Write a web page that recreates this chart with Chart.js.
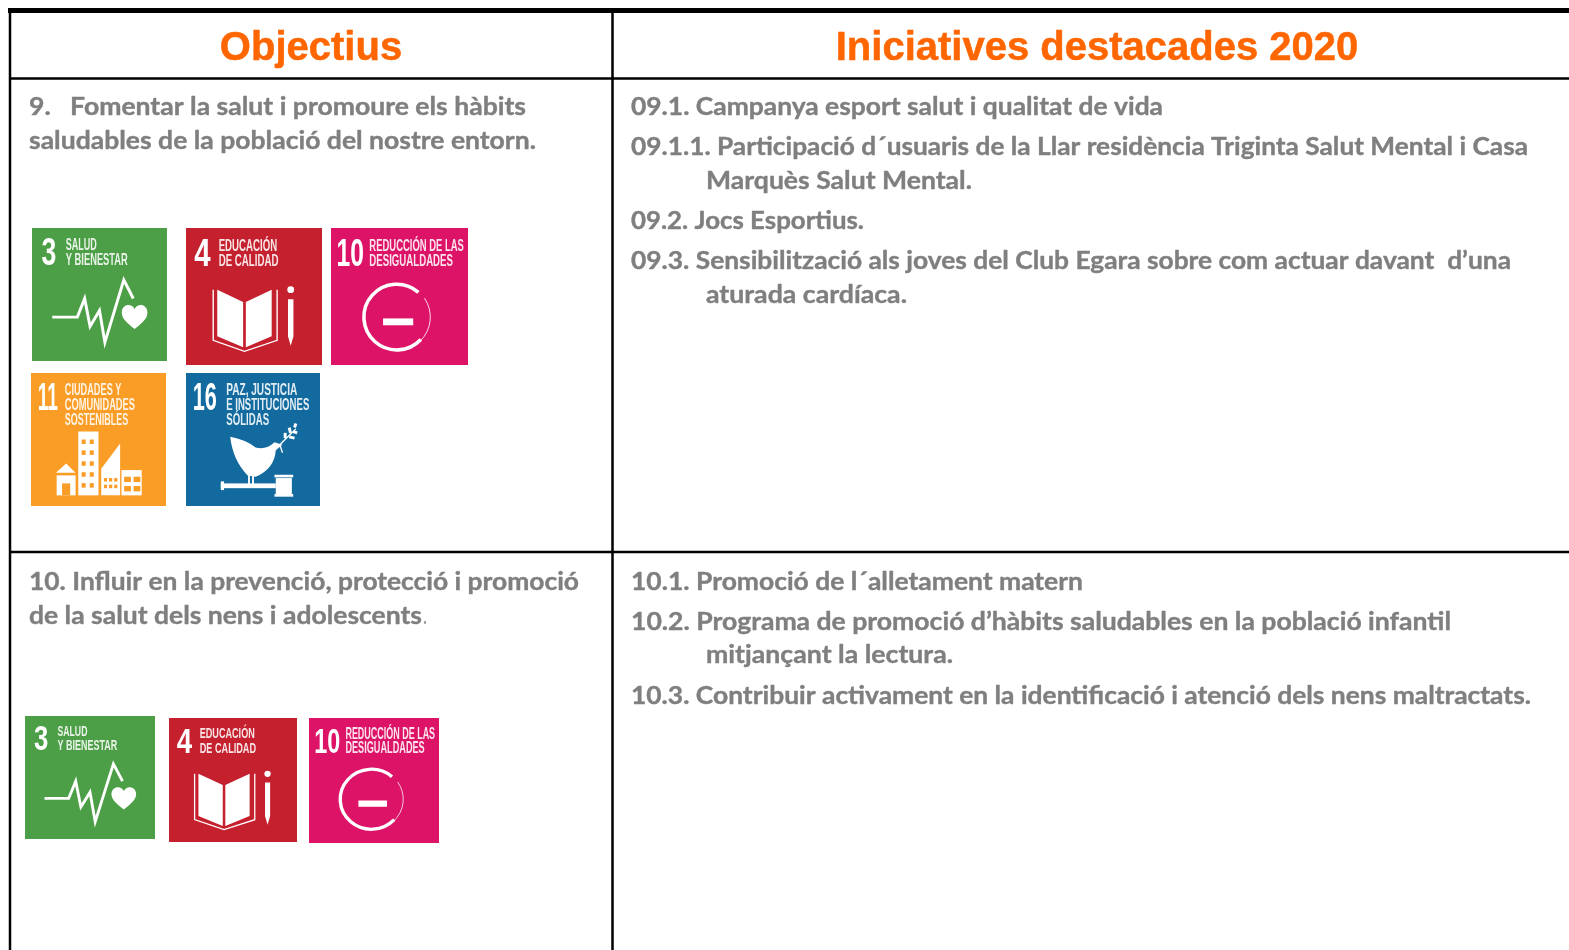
<!DOCTYPE html>
<html>
<head>
<meta charset="utf-8">
<title>Objectius</title>
<script src="https://cdn.jsdelivr.net/npm/chart.js@4"></script>
<style>
html, body { margin: 0; padding: 0; background: #fff; overflow: hidden; }
canvas { display: block; }
</style>
</head>
<body>
<canvas id="chart" width="1569" height="950"></canvas>
<script>
// table content
var headers = ['Objectius', 'Iniciatives destacades 2020'];
var objectives = [
    '9.   Fomentar la salut i promoure els hàbits',
    'saludables de la població del nostre entorn.',
    '10. Influir en la prevenció, protecció i promoció',
    'de la salut dels nens i adolescents'
];
var initiatives = [
    '09.1. Campanya esport salut i qualitat de vida',
    '09.1.1. Participació d´usuaris de la Llar residència Triginta Salut Mental i Casa',
    'Marquès Salut Mental.',
    '09.2. Jocs Esportius.',
    '09.3. Sensibilització als joves del Club Egara sobre com actuar davant  d’una',
    'aturada cardíaca.',
    '10.1. Promoció de l´alletament matern',
    '10.2. Programa de promoció d’hàbits saludables en la població infantil',
    'mitjançant la lectura.',
    '10.3. Contribuir activament en la identificació i atenció dels nens maltractats.'
];
var goals = {
    3: ['SALUD', 'Y BIENESTAR'],
    4: ['EDUCACIÓN', 'DE CALIDAD'],
    10: ['REDUCCIÓN DE LAS', 'DESIGUALDADES'],
    11: ['CIUDADES Y', 'COMUNIDADES', 'SOSTENIBLES'],
    16: ['PAZ, JUSTICIA', 'E INSTITUCIONES', 'SÓLIDAS']
};
var goalsRow1 = [3, 4, 10, 11, 16];
var goalsRow2 = [3, 4, 10];

// layout, in page pixels
var GREY = '#7f7f7f';
var ORANGE = '#ff6600';
var headerPos = [[311, 60], [1097, 60]];
var objectivePos = [[29, 115, 526], [29, 149, 536], [29, 590, 579], [29, 624, 422]];
var initiativePos = [
    [631, 115, 1163], [631, 155, 1528], [706, 189, 972], [631, 229, 864], [631, 269, 1511],
    [706, 303, 907], [631, 590, 1083], [631, 630, 1451], [706, 663, 953], [631, 704, 1531]
];
// left, top, right, bottom
var row1Boxes = [[32, 228, 167, 361], [186, 228, 322, 365], [331, 228, 468, 365], [31, 373, 166, 506], [186, 373, 320, 506]];
var row2Boxes = [[25, 716, 155, 839], [169, 718, 297, 842], [309, 718, 439, 843]];
var tileColors = { 3: '#4c9f47', 4: '#c5202e', 10: '#dd1367', 11: '#fa9d26', 16: '#126a9f' };
var numberBoxes = { 3: [7, 18], 4: [6, 18], 10: [4, 24], 11: [5, 20], 16: [5, 23] };
var captionBoxes = {
    3: [[25, 48], [25, 71]],
    4: [[24, 67], [24, 68]],
    10: [[28, 97], [28, 89]],
    11: [[25, 67], [25, 77], [25, 72]],
    16: [[30, 83], [30, 92], [30, 62]]
};

function stretchText(ctx, str, left, right, capTop, capBottom) {
    var size = (capBottom - capTop) / 0.72;
    ctx.save();
    ctx.font = '700 ' + size + 'px "Liberation Sans"';
    ctx.translate(left, capBottom);
    ctx.scale((right - left) / ctx.measureText(str).width, 1);
    ctx.fillText(str, 0, 0);
    ctx.restore();
}

function poly(ctx, pts, fill) {
    ctx.beginPath();
    ctx.moveTo(pts[0][0], pts[0][1]);
    for (var i = 1; i < pts.length; i++) {
        ctx.lineTo(pts[i][0], pts[i][1]);
    }
    if (fill) {
        ctx.closePath();
        ctx.fill();
    } else {
        ctx.stroke();
    }
}

function drawHealth(ctx) {
    ctx.lineWidth = 2.2;
    ctx.lineJoin = 'miter';
    poly(ctx, [[15, 67], [33.6, 67], [39, 53], [43, 74], [50, 62], [54, 86], [68, 39], [75, 53]]);
    ctx.beginPath();
    ctx.moveTo(76, 76);
    ctx.bezierCurveTo(70, 71, 66.5, 68, 66.5, 63.5);
    ctx.bezierCurveTo(66.5, 57, 74, 56, 76, 61);
    ctx.bezierCurveTo(78, 56, 85.5, 57, 85.5, 63.5);
    ctx.bezierCurveTo(85.5, 68, 82, 71, 76, 76);
    ctx.fill();
}

function drawEducation(ctx) {
    poly(ctx, [[23, 45], [42, 54], [42, 87], [23, 79]], true);
    poly(ctx, [[44, 54], [63, 45], [63, 79], [44, 87]], true);
    ctx.lineWidth = 1;
    poly(ctx, [[20, 45], [20, 82], [43, 90], [67, 82], [67, 45]]);
    poly(ctx, [[75, 52], [79, 52], [79, 79], [77, 86], [75, 79]], true);
    ctx.beginPath();
    ctx.arc(77, 45, 2.5, 0, Math.PI * 2);
    ctx.fill();
}

function drawInequality(ctx) {
    ctx.lineWidth = 2.6;
    ctx.beginPath();
    ctx.arc(48, 65, 24, -0.85, 0.75, true);
    ctx.stroke();
    ctx.lineWidth = 0.6;
    ctx.beginPath();
    ctx.arc(48, 65, 24.5, -0.6, 0.8);
    ctx.stroke();
    ctx.fillRect(38, 66, 22, 5);
}

function drawCities(ctx) {
    ctx.fillRect(35, 44, 15, 48);
    poly(ctx, [[18.5, 75], [26, 68], [33, 75]], true);
    ctx.fillRect(19, 77, 14, 15);
    poly(ctx, [[52, 72], [66, 53], [66, 92], [52, 92]], true);
    ctx.fillRect(67, 73, 15, 19);
    ctx.fillStyle = tileColors[11];
    var i, j;
    for (i = 0; i < 5; i++) {
        for (j = 0; j < 2; j++) {
            ctx.fillRect(37.5 + j * 6, 50 + i * 8.2, 3, 3.4);
        }
    }
    for (i = 0; i < 3; i++) {
        ctx.fillRect(54 + i * 3.8, 79, 2.4, 2.6);
        ctx.fillRect(54 + i * 3.8, 84, 2.4, 2.6);
    }
    ctx.fillRect(69, 78, 5, 4);
    ctx.fillRect(76, 78, 5, 4);
    ctx.fillRect(69, 85, 5, 4);
    ctx.fillRect(76, 85, 5, 4);
    ctx.fillRect(23, 83, 6, 9);
    ctx.fillStyle = '#fff';
}

function drawPeace(ctx) {
    ctx.beginPath();
    ctx.moveTo(33, 48);
    ctx.quadraticCurveTo(44, 50, 52, 56);
    ctx.quadraticCurveTo(60, 58, 66, 52);
    ctx.lineTo(72, 54);
    ctx.lineTo(67, 58);
    ctx.quadraticCurveTo(66, 72, 52, 78);
    ctx.lineTo(46, 77);
    ctx.quadraticCurveTo(35, 66, 33, 48);
    ctx.fill();
    ctx.lineWidth = 1;
    poly(ctx, [[70, 54], [72, 60]]);
    poly(ctx, [[70, 54], [76, 48], [82, 42]]);
    ctx.lineWidth = 2.2;
    poly(ctx, [[74, 49], [74, 45]]);
    poly(ctx, [[77, 48], [81, 49]]);
    poly(ctx, [[78, 45], [77, 41]]);
    poly(ctx, [[80, 44], [83, 45]]);
    poly(ctx, [[81, 41], [82, 38]]);
    ctx.lineWidth = 1.4;
    poly(ctx, [[47, 76], [47, 84]]);
    poly(ctx, [[50, 76], [50, 84]]);
    ctx.fillRect(26, 83, 41, 3.6);
    ctx.fillRect(26, 81.5, 2.4, 6.5);
    ctx.fillRect(67, 79, 12, 12);
    ctx.fillRect(66, 76.5, 14, 2);
    ctx.fillRect(66, 91, 14, 2);
}

var goalArt = { 3: drawHealth, 4: drawEducation, 10: drawInequality, 11: drawCities, 16: drawPeace };

// each icon is a canvas handed to Chart.js as a pointStyle
function makeTile(goal, box) {
    var w = box[2] - box[0];
    var h = box[3] - box[1];
    var c = document.createElement('canvas');
    c.width = w;
    c.height = h;
    var ctx = c.getContext('2d');
    ctx.fillStyle = tileColors[goal];
    ctx.fillRect(0, 0, w, h);
    ctx.filter = 'blur(0.5px)';
    ctx.scale(w / 100, h / 100);
    ctx.fillStyle = '#fff';
    ctx.strokeStyle = '#fff';
    stretchText(ctx, String(goal), numberBoxes[goal][0], numberBoxes[goal][1], 7.5, 28);
    var caps = goals[goal];
    ctx.globalAlpha = 0.88;
    for (var i = 0; i < caps.length; i++) {
        var top = 7.5 + i * 11.4;
        stretchText(ctx, caps[i], captionBoxes[goal][i][0], captionBoxes[goal][i][1], top, top + 9);
    }
    ctx.globalAlpha = 1;
    goalArt[goal](ctx);
    return c;
}

function tileDataset(list, boxes) {
    return {
        type: 'scatter',
        data: boxes.map(function (b) {
            return { x: (b[0] + b[2]) / 2, y: (b[1] + b[3]) / 2 };
        }),
        pointStyle: list.map(function (g, i) { return makeTile(g, boxes[i]); }),
        pointRadius: 1
    };
}

function ruleDataset(x0, y0, x1, y1, width) {
    return {
        type: 'line',
        data: [{ x: x0, y: y0 }, { x: x1, y: y1 }],
        borderColor: '#000',
        borderWidth: width,
        pointRadius: 0,
        clip: false
    };
}

function drawLines(chart, lines, pos, font, color, heavy) {
    var ctx = chart.ctx;
    var sx = chart.scales.x;
    var sy = chart.scales.y;
    ctx.save();
    ctx.font = font;
    ctx.fillStyle = color;
    ctx.strokeStyle = color;
    ctx.lineWidth = heavy;
    ctx.lineJoin = 'round';
    ctx.textBaseline = 'alphabetic';
    ctx.textAlign = 'left';
    for (var i = 0; i < lines.length; i++) {
        var x = sx.getPixelForValue(pos[i][0]);
        var end = sx.getPixelForValue(pos[i][2]);
        ctx.save();
        ctx.translate(x, sy.getPixelForValue(pos[i][1]));
        ctx.scale((end - x) / ctx.measureText(lines[i]).width, 1);
        ctx.fillText(lines[i], 0, 0);
        if (heavy) {
            ctx.strokeText(lines[i], 0, 0);
        }
        ctx.restore();
    }
    ctx.restore();
}

var tableText = {
    id: 'tableText',
    afterDatasetsDraw: function (chart) {
        var ctx = chart.ctx;
        ctx.save();
        ctx.font = '700 40px "Liberation Sans"';
        ctx.fillStyle = ORANGE;
        ctx.strokeStyle = ORANGE;
        ctx.lineWidth = 0.5;
        ctx.textAlign = 'center';
        headers.forEach(function (h, i) {
            var x = chart.scales.x.getPixelForValue(headerPos[i][0]);
            var y = chart.scales.y.getPixelForValue(headerPos[i][1]);
            ctx.fillText(h, x, y);
            ctx.strokeText(h, x, y);
        });
        ctx.restore();
        var font = '700 25px Lato';
        drawLines(chart, objectives, objectivePos, font, GREY, 0.4);
        drawLines(chart, initiatives, initiativePos, font, GREY, 0.4);
        drawLines(chart, ['.'], [[423, 624, 427]], '400 25px Lato', '#999', 0);
    }
};

new Chart(document.getElementById('chart'), {
    data: {
        datasets: [
            ruleDataset(8, 10.5, 1569, 10.5, 5),
            ruleDataset(10, 9, 10, 950, 2.5),
            ruleDataset(612.5, 9, 612.5, 950, 2.5),
            ruleDataset(10, 78.5, 1569, 78.5, 2.5),
            ruleDataset(10, 552, 1569, 552, 2.5),
            tileDataset(goalsRow1, row1Boxes),
            tileDataset(goalsRow2, row2Boxes)
        ]
    },
    options: {
        responsive: false,
        animation: false,
        layout: { padding: 0, autoPadding: false },
        plugins: { legend: { display: false }, tooltip: { enabled: false } },
        scales: {
            x: { type: 'linear', min: 0, max: 1569, display: false },
            y: { type: 'linear', min: 0, max: 950, reverse: true, display: false }
        }
    },
    plugins: [tableText]
});
</script>
</body>
</html>
